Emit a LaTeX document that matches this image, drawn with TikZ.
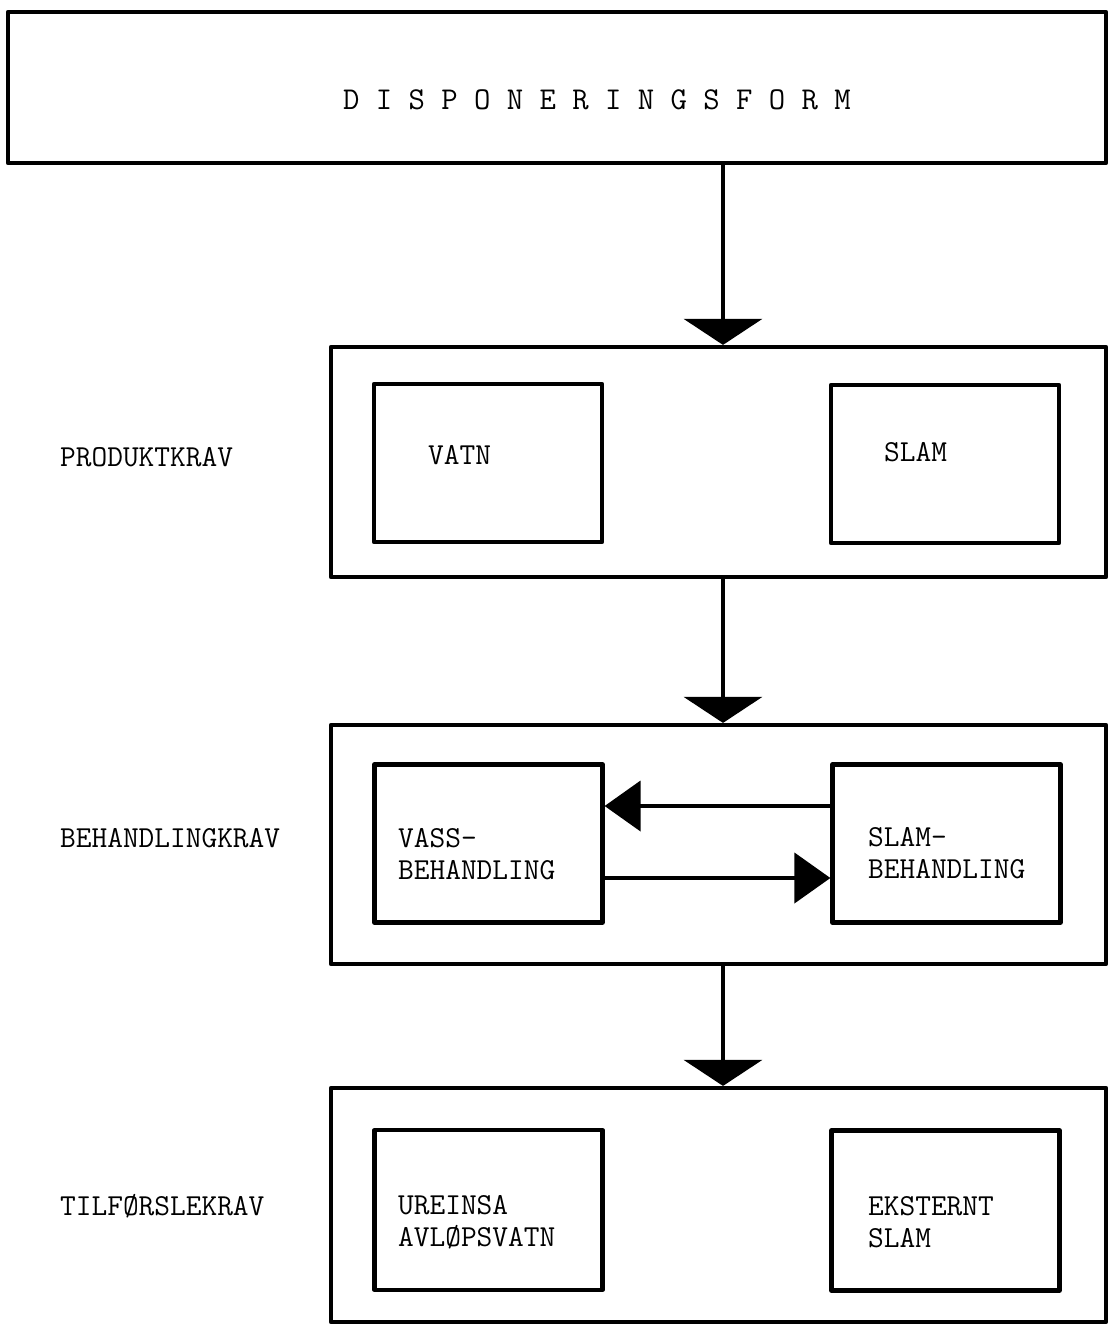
\documentclass[tikz,border=0pt]{standalone}
\usepackage{fontspec}
\usetikzlibrary{arrows.meta}
\begin{document}
\begin{tikzpicture}[x=1pt,y=-1pt,line cap=round,line join=round,
  box/.style={draw,line width=4.2pt,inner sep=0pt},
  inbox/.style={draw,line width=4.2pt,inner sep=0pt,minimum width=228pt,minimum height=158pt},
  txt/.style={inner sep=0pt,anchor=west,align=left,font=\fontsize{30.5}{32}\selectfont\ttfamily},
  flow/.style={line width=4.2pt,-{Triangle[width=78pt,length=26pt]}},
  hflow/.style={line width=4.2pt,-{Triangle[width=50pt,length=36pt]}}]
  \useasboundingbox (0,0) rectangle (1108,1326);
  \node[box,minimum width=1098pt,minimum height=151pt] (form) at (557,87.5) {};
  \node[inner sep=0pt,font=\fontsize{31.8}{32}\selectfont\ttfamily] (formtxt) at (597,100) {D I S P O N E R I N G S F O R M};
  \node[box,minimum width=775pt,minimum height=230pt] (prod) at (718.5,462) {};
  \node[box,minimum width=775pt,minimum height=239pt] (beh) at (718.5,844.5) {};
  \node[box,minimum width=775pt,minimum height=234pt] (tilf) at (718.5,1205) {};
  \node[inbox] (vatn) at (488,463) {};
  \node[inbox] (slam) at (945,464) {};
  \node[inbox] (vassb) at (488.5,843.5) {};
  \node[inbox] (slamb) at (946.5,843.5) {};
  \node[inbox,minimum height=160pt] (urein) at (488.5,1210) {};
  \node[inbox,minimum height=160pt] (ekst) at (945.5,1210.5) {};
  \node[txt] (prodtxt) at (60,457) {PRODUKTKRAV};
  \node[txt] (behtxt) at (60,838) {BEHANDLINGKRAV};
  \node[txt] (tilftxt) at (60,1206) {TILFØRSLEKRAV};
  \node[txt] (vatntxt) at (428,455) {VATN};
  \node[txt] (slamtxt) at (884,452) {SLAM};
  \node[txt] (vassbtxt) at (398,854) {VASS-\\BEHANDLING};
  \node[txt] (slambtxt) at (868,853) {SLAM-\\BEHANDLING};
  \node[txt] (ureintxt) at (398,1222) {UREINSA\\AVLØPSVATN};
  \node[txt] (eksttxt) at (868,1222) {EKSTERNT\\SLAM};
  \draw[flow] ([xshift=4.5pt]form.south -| prod.north) -- ([xshift=4.5pt]prod.north);
  \draw[flow] ([xshift=4.5pt]prod.south) -- ([xshift=4.5pt]beh.north);
  \draw[flow] ([xshift=4.5pt]beh.south) -- ([xshift=4.5pt]tilf.north);
  \draw[hflow] ([yshift=37.5pt]slamb.west) -- ([yshift=37.5pt]vassb.east);
  \draw[hflow] ([yshift=-34.5pt]vassb.east) -- ([yshift=-34.5pt]slamb.west);
\end{tikzpicture}
\end{document}
